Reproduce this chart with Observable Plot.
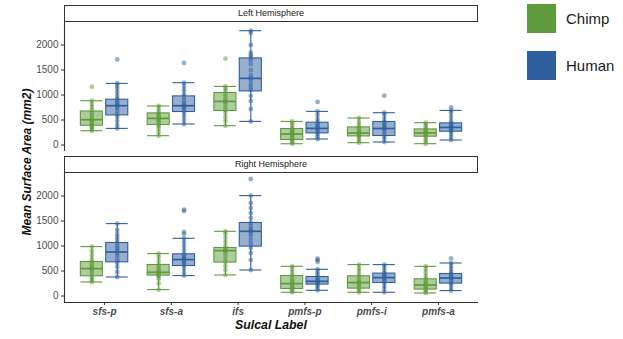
<!DOCTYPE html>
<html>
<head>
<meta charset="utf-8">
<script src="https://cdn.jsdelivr.net/npm/d3@7"></script>
<script src="https://cdn.jsdelivr.net/npm/@observablehq/plot@0.6"></script>
<style>
  html, body { margin: 0; padding: 0; background: #fff; }
  #chart { position: relative; width: 623px; height: 339px; font-family: "Liberation Sans", Arial, sans-serif; overflow: hidden; }
  .panel { position: absolute; left: 0; }
  .strip { position: absolute; left: 64px; width: 414px; height: 17px; box-sizing: border-box; border: 1.3px solid #333; background: #fff;
           font-size: 9px; color: #1a1a1a; text-align: center; line-height: 15px; }
  .ylab { position: absolute; left: 27px; top: 162px; transform: translate(-50%, -50%) rotate(-90deg); white-space: nowrap;
          font-weight: bold; font-style: italic; font-size: 12px; color: #111; }
  .xlab { position: absolute; left: 271px; top: 318px; transform: translateX(-50%); white-space: nowrap;
          font-weight: bold; font-style: italic; font-size: 12.3px; color: #111; }
  .lg-sw { position: absolute; left: 527px; width: 29px; height: 29px; }
  .lg-tx { position: absolute; left: 566px; font-size: 15px; color: #1a1a1a; line-height: 18px; }
  g[aria-label="x-axis tick label"] text { font-weight: bold; font-style: italic; }
</style>
</head>
<body>
<div id="chart"></div>
<script>
// ---------- data ----------
const categories = ["sfs-p", "sfs-a", "ifs", "pmfs-p", "pmfs-i", "pmfs-a"];
const species = ["Chimp", "Human"];
const hemispheres = ["Left Hemisphere", "Right Hemisphere"];
const yTicks = [0, 500, 1000, 1500, 2000];

// box statistics per category (lower whisker, q1, median, q3, upper whisker)
const leftChimpLo  = [286, 186, 386, 25, 46, 26];
const leftChimpQ1  = [386, 400, 680, 100, 172, 166];
const leftChimpMed = [506, 532, 872, 220, 240, 240];
const leftChimpQ3  = [670, 632, 1040, 320, 352, 312];
const leftChimpHi  = [886, 780, 1172, 472, 540, 446];

const leftHumanLo  = [332, 420, 472, 120, 60, 100];
const leftHumanQ1  = [592, 660, 1072, 232, 180, 266];
const leftHumanMed = [786, 786, 1332, 332, 330, 352];
const leftHumanQ3  = [906, 972, 1732, 446, 460, 432];
const leftHumanHi  = [1232, 1246, 2286, 672, 646, 692];

const rightChimpLo  = [280, 128, 420, 74, 74, 60];
const rightChimpQ1  = [394, 408, 668, 140, 148, 128];
const rightChimpMed = [548, 474, 908, 248, 268, 220];
const rightChimpQ3  = [680, 620, 960, 400, 394, 334];
const rightChimpHi  = [988, 848, 1294, 594, 628, 594];

const rightHumanLo  = [380, 408, 520, 114, 74, 108];
const rightHumanQ1  = [674, 600, 988, 228, 260, 248];
const rightHumanMed = [880, 728, 1294, 294, 368, 360];
const rightHumanQ3  = [1060, 834, 1460, 380, 448, 440];
const rightHumanHi  = [1448, 1154, 2008, 534, 628, 660];

// individual subject values per category
const leftChimpPts = [
  [286, 310, 340, 370, 395, 420, 450, 480, 500, 520, 560, 600, 650, 700, 760, 820, 886, 1166],
  [186, 260, 330, 380, 410, 440, 480, 510, 530, 560, 590, 620, 660, 720, 780],
  [386, 480, 560, 640, 700, 760, 820, 860, 880, 920, 980, 1020, 1080, 1130, 1172, 1726],
  [25, 50, 80, 110, 140, 170, 200, 220, 240, 270, 300, 330, 380, 430, 472],
  [46, 90, 130, 170, 200, 230, 250, 280, 310, 350, 400, 460, 540],
  [26, 70, 110, 160, 190, 220, 240, 260, 290, 320, 370, 410, 446]
];
const leftHumanPts = [
  [332, 400, 480, 560, 620, 680, 740, 780, 800, 840, 880, 920, 980, 1050, 1120, 1180, 1232, 1712],
  [420, 500, 580, 650, 700, 750, 780, 800, 840, 900, 960, 1020, 1100, 1180, 1246, 1640],
  [472, 720, 880, 980, 1100, 1160, 1220, 1300, 1340, 1400, 1500, 1620, 1700, 1760, 1800, 1850, 2000, 2240, 2286],
  [120, 170, 220, 260, 300, 330, 350, 380, 420, 460, 520, 600, 672, 860],
  [60, 120, 170, 220, 280, 320, 350, 380, 420, 460, 520, 600, 646, 986],
  [100, 160, 220, 270, 300, 330, 350, 370, 400, 430, 480, 560, 640, 692, 752]
];
const rightChimpPts = [
  [280, 320, 360, 400, 450, 500, 540, 560, 600, 640, 680, 740, 820, 900, 988],
  [128, 250, 340, 390, 420, 450, 470, 490, 530, 580, 620, 700, 780, 848],
  [420, 520, 600, 680, 740, 800, 860, 900, 920, 950, 1000, 1080, 1160, 1240, 1294],
  [74, 100, 130, 160, 190, 220, 250, 280, 320, 370, 420, 480, 540, 594],
  [74, 110, 150, 190, 230, 260, 290, 330, 380, 430, 500, 560, 628],
  [60, 90, 120, 150, 180, 210, 230, 260, 300, 340, 400, 470, 540, 594]
];
const rightHumanPts = [
  [380, 480, 580, 660, 720, 800, 860, 900, 950, 1000, 1060, 1120, 1180, 1240, 1320, 1448],
  [408, 480, 560, 620, 660, 700, 730, 760, 800, 840, 920, 1000, 1080, 1154, 1240, 1280, 1700, 1728],
  [520, 720, 860, 960, 1040, 1120, 1200, 1260, 1300, 1340, 1400, 1460, 1560, 1660, 1760, 1860, 2008, 2340],
  [114, 160, 200, 240, 270, 290, 310, 340, 380, 430, 480, 534, 680, 720, 748],
  [74, 140, 200, 260, 300, 340, 370, 400, 430, 460, 520, 580, 628],
  [108, 160, 220, 260, 300, 340, 370, 400, 440, 480, 540, 600, 660, 754]
];

// ---------- build tables ----------
const colors = ["#5f9a3c", "#2f5f9e"];
const dodge = 0.19, half = 0.165;

function statsTable(sp, lo, q1, med, q3, hi) {
  const s = species.indexOf(sp);
  return categories.map((c, i) => ({
    species: sp, category: c,
    x: i + 1 + (s === 0 ? -dodge : dodge),
    lo: lo[i], q1: q1[i], med: med[i], q3: q3[i], hi: hi[i]
  }));
}
function ptsTable(sp, pts) {
  const s = species.indexOf(sp);
  return pts.flatMap((arr, i) => arr.map(v => ({ species: sp, category: categories[i], x: i + 1 + (s === 0 ? -dodge : dodge), y: v })));
}

const panels = [
  {
    label: hemispheres[0],
    stats: [...statsTable("Chimp", leftChimpLo, leftChimpQ1, leftChimpMed, leftChimpQ3, leftChimpHi),
            ...statsTable("Human", leftHumanLo, leftHumanQ1, leftHumanMed, leftHumanQ3, leftHumanHi)],
    pts: [...ptsTable("Chimp", leftChimpPts), ...ptsTable("Human", leftHumanPts)]
  },
  {
    label: hemispheres[1],
    stats: [...statsTable("Chimp", rightChimpLo, rightChimpQ1, rightChimpMed, rightChimpQ3, rightChimpHi),
            ...statsTable("Human", rightHumanLo, rightHumanQ1, rightHumanMed, rightHumanQ3, rightHumanHi)],
    pts: [...ptsTable("Chimp", rightChimpPts), ...ptsTable("Human", rightHumanPts)]
  }
];

const xDomain = [0.4, 6.6];
const yDomain = [-130, 2450];

function makePanel(p, showX) {
  const marks = [
    Plot.ruleX(p.stats, {x: "x", y1: "lo", y2: "q1", stroke: "species", strokeWidth: 1.1}),
    Plot.ruleX(p.stats, {x: "x", y1: "q3", y2: "hi", stroke: "species", strokeWidth: 1.1}),
    Plot.ruleY(p.stats, {y: "lo", x1: d => d.x - half, x2: d => d.x + half, stroke: "species", strokeWidth: 1.1}),
    Plot.ruleY(p.stats, {y: "hi", x1: d => d.x - half, x2: d => d.x + half, stroke: "species", strokeWidth: 1.1}),
    Plot.rect(p.stats, {x1: d => d.x - half, x2: d => d.x + half, y1: "q1", y2: "q3", fill: "species", fillOpacity: 0.5, stroke: "species", strokeWidth: 1.1}),
    Plot.ruleY(p.stats, {y: "med", x1: d => d.x - half, x2: d => d.x + half, stroke: "species", strokeWidth: 1.7}),
    Plot.dot(p.pts, {x: "x", y: "y", fill: "species", fillOpacity: 0.5, r: 2.4}),
    Plot.axisY({ticks: yTicks, tickFormat: d => String(d), tickSize: 3, tickPadding: 3, stroke: "#333", label: null}),
    Plot.ruleX([xDomain[0]], {stroke: "#333", strokeWidth: 1.1})
  ];
  if (showX) {
    marks.push(Plot.axisX({ticks: d3.range(1, categories.length + 1), tickFormat: i => categories[i - 1], tickSize: 3, tickPadding: 2, stroke: "#333", label: null}));
    marks.push(Plot.ruleY([yDomain[0]], {stroke: "#333", strokeWidth: 1.1}));
  }
  return Plot.plot({
    width: 480,
    height: showX ? 153 : 129,
    marginLeft: 64, marginRight: 2, marginTop: 0, marginBottom: showX ? 24 : 0,
    style: {fontFamily: "Liberation Sans, Arial, sans-serif", fontSize: "10px", color: "#4d4d4d", background: "transparent", overflow: "visible"},
    x: {domain: xDomain, axis: null, label: null},
    y: {domain: yDomain, axis: null, label: null},
    color: {domain: species, range: colors},
    marks
  });
}

const chart = document.getElementById("chart");

function addDiv(cls, css, text) {
  const d = document.createElement("div");
  d.className = cls;
  Object.assign(d.style, css);
  if (text != null) d.textContent = text;
  chart.appendChild(d);
  return d;
}

const tops = [22, 173];
const stripTops = [5, 156];
panels.forEach((p, k) => {
  const svg = makePanel(p, k === 1);
  svg.classList.add("panel");
  svg.style.top = tops[k] + "px";
  chart.appendChild(svg);
  addDiv("strip", {top: stripTops[k] + "px"}, p.label);
});

addDiv("ylab", {}, "Mean Surface Area (mm2)");
addDiv("xlab", {}, "Sulcal Label");

// legend
const lgTops = [4, 51];
species.forEach((s, i) => {
  addDiv("lg-sw", {top: lgTops[i] + "px", background: colors[i]});
  addDiv("lg-tx", {top: (lgTops[i] + 6) + "px"}, s);
});
</script>
</body>
</html>
